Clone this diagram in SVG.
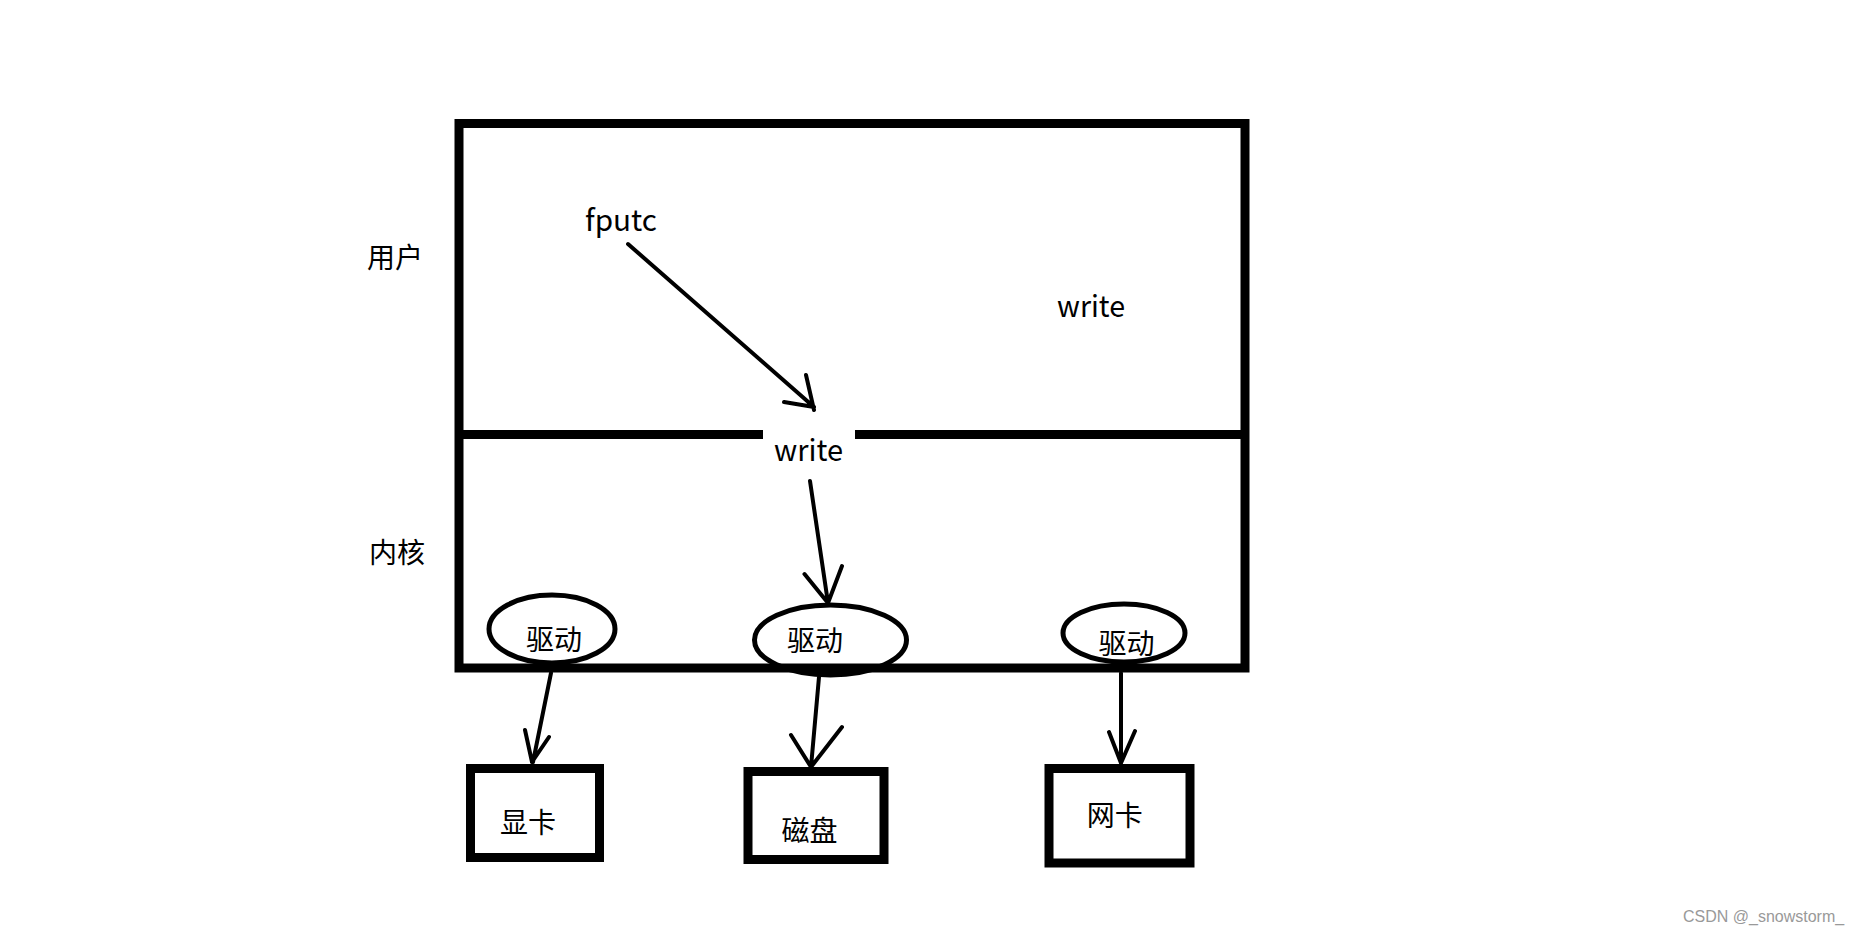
<svg xmlns="http://www.w3.org/2000/svg" width="1860" height="933" viewBox="0 0 1860 933">
<style>
.t{font-family:"Noto Sans CJK SC","Liberation Sans",sans-serif;fill:#000;}
.lat{font-size:30px;}
.cjk{font-size:28px;text-anchor:middle;}
.frame{fill:none;stroke:#000;stroke-width:9;}
.ell{fill:none;stroke:#000;stroke-width:5;}
.ar{fill:none;stroke:#000;stroke-width:4;stroke-linecap:round;}
.wm{font-family:"Liberation Sans",sans-serif;font-size:16px;fill:#999;}
</style>
<rect width="1860" height="933" fill="#fff"/>
<g id="system">
  <rect class="frame" x="459" y="123.5" width="786" height="544.5"/>
  <line class="frame" x1="459" y1="434.5" x2="763" y2="434.5"/>
  <line class="frame" x1="855" y1="434.5" x2="1245" y2="434.5"/>
</g>
<g id="labels">
  <text class="t cjk" x="395" y="268">用户</text>
  <text class="t cjk" x="397" y="563">内核</text>
</g>
<g id="fputc"><text class="t lat" x="585" y="231" textLength="72" lengthAdjust="spacingAndGlyphs">fputc</text></g>
<g id="write-user"><text class="t lat" x="1057" y="317" textLength="68" lengthAdjust="spacingAndGlyphs">write</text></g>
<g id="write-kernel"><text class="t lat" x="774" y="461" textLength="69" lengthAdjust="spacingAndGlyphs">write</text></g>
<g id="driver1">
  <ellipse class="ell" cx="552" cy="629" rx="63" ry="34"/>
  <text class="t cjk" x="554" y="650">驱动</text>
</g>
<g id="driver2">
  <ellipse class="ell" cx="830.5" cy="640" rx="76" ry="35"/>
  <path d="M791.6 670 A76 35 0 0 0 869.4 670 Z" fill="#000"/>
  <text class="t cjk" x="815" y="651">驱动</text>
</g>
<g id="driver3">
  <ellipse class="ell" cx="1124" cy="633" rx="61" ry="29"/>
  <text class="t cjk" x="1126.5" y="654">驱动</text>
</g>
<g id="gpu">
  <rect class="frame" x="470.5" y="768.5" width="129" height="89"/>
  <text class="t cjk" x="528" y="833">显卡</text>
</g>
<g id="disk">
  <rect class="frame" x="748" y="771.5" width="136" height="88"/>
  <text class="t cjk" x="809.5" y="841">磁盘</text>
</g>
<g id="nic">
  <rect class="frame" x="1049" y="768.5" width="141" height="94.5"/>
  <text class="t cjk" x="1114.7" y="826">网卡</text>
</g>
<g id="connectors">
  <path class="ar" d="M628 244 L814 407 M806 375 L814 410 M784 402 L814 407"/>
  <path class="ar" d="M810 481 L828 603 M804.5 574 L828 603 M842 566 L828 603"/>
  <path class="ar" d="M551 673 L533 762 M525 730 L532 762 M549 737 L532 762"/>
  <path class="ar" d="M819 677 L811 767 M791 735 L811 767 M842 727 L811 767"/>
  <path class="ar" d="M1121 673 L1121 763 M1109 732 L1121 763 M1135 731 L1121 763"/>
</g>
<text class="wm" x="1683" y="922">CSDN @_snowstorm_</text>
</svg>
